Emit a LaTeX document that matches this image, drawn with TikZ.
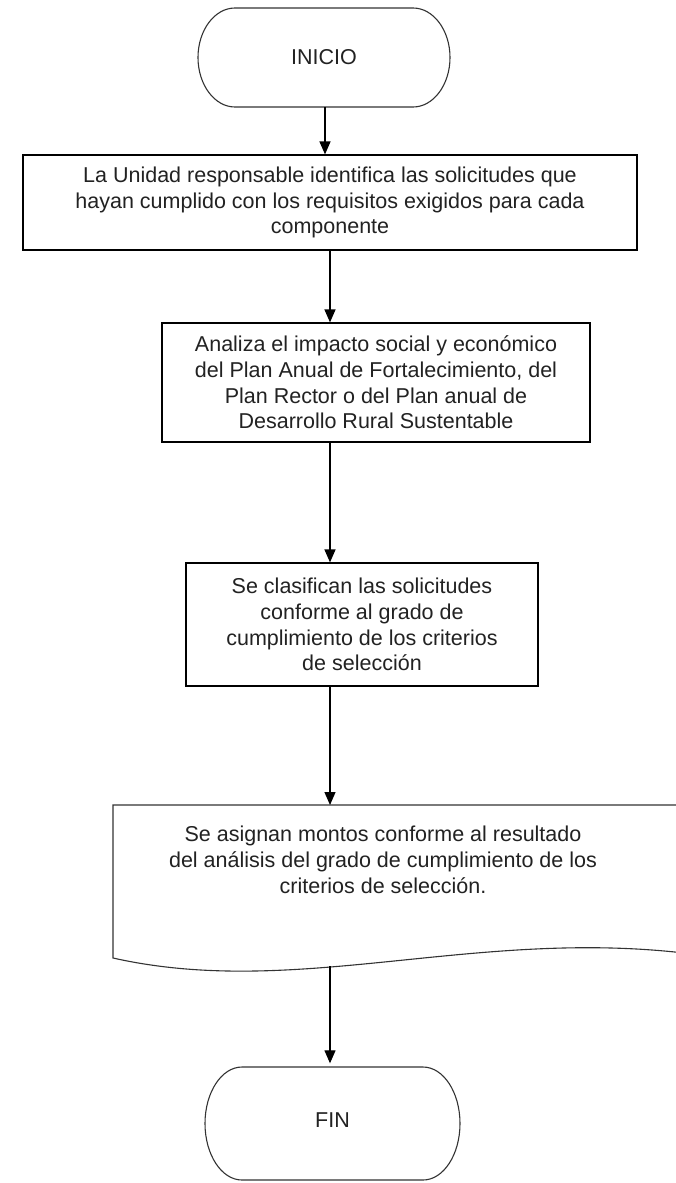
\documentclass[tikz,border=0pt]{standalone}
\usepackage{fontspec}
\setmainfont{Liberation Sans}
\usetikzlibrary{arrows.meta}
\definecolor{ink}{HTML}{222222}
\begin{document}
\begin{tikzpicture}[x=1pt,y=-1pt,
  every node/.style={font=\fontsize{21.5}{25.7}\selectfont, text=ink},
  box/.style={draw=black, line width=1.2pt, inner sep=0pt, align=center},
  txt/.style={inner sep=0pt, align=center},
  outline/.style={draw=black!80, line width=1.1pt},
  arr/.style={draw=black, line width=1.3pt, -{Triangle[width=11pt,length=13pt]}}]
\useasboundingbox (0,0) rectangle (676,1183);
\clip (0,0) rectangle (676,1183);
\fill[white] (0,0) rectangle (676,1183);
% INICIO terminal
\draw[outline] (235,8) -- (413,8) .. controls (433.4,8) and (450,30.2) .. (450,57.5)
  .. controls (450,84.8) and (433.4,107) .. (413,107) -- (235,107)
  .. controls (214.6,107) and (198,84.8) .. (198,57.5)
  .. controls (198,30.2) and (214.6,8) .. (235,8) -- cycle;
\node[txt, minimum width=252pt, minimum height=99pt] (ini) at (324,57.5) {INICIO};
% Box 1
\node[box, minimum width=614pt, minimum height=95pt] (b1) at (330,202.5)
  {La Unidad responsable identifica las solicitudes que\\hayan cumplido con los requisitos exigidos para cada\\componente};
% Box 2
\node[box, minimum width=428pt, minimum height=119pt] (b2) at (376,382.5)
  {Analiza el impacto social y económico\\del Plan Anual de Fortalecimiento, del\\Plan Rector o del Plan anual de\\Desarrollo Rural Sustentable};
% Box 3
\node[box, minimum width=352pt, minimum height=123pt] (b3) at (362,624.5)
  {Se clasifican las solicitudes\\conforme al grado de\\cumplimiento de los criterios\\de selección};
% Document shape
\draw[outline] (700,805) -- (113,805) -- (113,958)
  .. controls (300,1000) and (480,925) .. (700,955);
\node[txt, minimum width=540pt, minimum height=100pt] (doc) at (383,860)
  {Se asignan montos conforme al resultado\\del análisis del grado de cumplimiento de los\\criterios de selección.};
\coordinate (docout) at (330,966);
\coordinate (doctop) at (330,805);
% FIN terminal
\draw[outline] (242,1067) -- (423,1067) .. controls (443.4,1067) and (460,1092.3) .. (460,1123.5)
  .. controls (460,1154.7) and (443.4,1180) .. (423,1180) -- (242,1180)
  .. controls (221.6,1180) and (205,1154.7) .. (205,1123.5)
  .. controls (205,1092.3) and (221.6,1067) .. (242,1067) -- cycle;
\node[txt, minimum width=255pt, minimum height=113pt] (fin) at (332.5,1120) {FIN};
% connectors
\draw[arr] (ini.south -| 325,0) -- (325,0 |- b1.north);
\draw[arr] (b1.south) -- (b1.south |- b2.north);
\draw[arr] (b1.south |- b2.south) -- (b1.south |- b3.north);
\draw[arr] (b1.south |- b3.south) -- (doctop);
\draw[arr] (docout) -- (docout |- fin.north);
\end{tikzpicture}
\end{document}
